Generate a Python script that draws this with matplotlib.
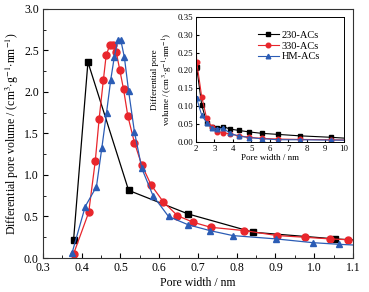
import matplotlib

matplotlib.use("Agg")
import matplotlib.pyplot as plt
from matplotlib.ticker import MultipleLocator

plt.rcParams["font.family"] = ["Liberation Serif", "DejaVu Serif"]
plt.rcParams["mathtext.fontset"] = "stix"

# main panel: micropore region
x_230 = [0.379, 0.416, 0.521, 0.675, 0.843, 1.054, 1.13]
y_230 = [0.22, 2.36, 0.815, 0.53, 0.31, 0.23, 0.21]

x_330 = [0.379, 0.418, 0.435, 0.445, 0.456, 0.463, 0.472, 0.481, 0.489, 0.498,
         0.508, 0.519, 0.536, 0.555, 0.579, 0.610, 0.647, 0.688, 0.733, 0.820,
         0.905, 0.976, 1.041, 1.088]
y_330 = [0.05, 0.55, 1.17, 1.68, 2.15, 2.44, 2.56, 2.57, 2.48, 2.27,
         2.03, 1.71, 1.39, 1.12, 0.88, 0.68, 0.51, 0.43, 0.37, 0.33,
         0.27, 0.25, 0.23, 0.22]

x_hm = [0.375, 0.409, 0.438, 0.452, 0.464, 0.475, 0.484, 0.493, 0.501, 0.510,
        0.521, 0.536, 0.555, 0.584, 0.624, 0.675, 0.731, 0.790, 0.902, 0.996,
        1.064, 1.13]
y_hm = [0.06, 0.62, 0.86, 1.33, 1.75, 2.15, 2.42, 2.62, 2.62, 2.42,
        2.01, 1.52, 1.08, 0.75, 0.50, 0.40, 0.33, 0.27, 0.23, 0.185,
        0.165, 0.15]

# inset: mesopore region
xi = [2.04, 2.31, 2.58, 2.85, 3.15, 3.48, 3.84, 4.34, 4.88, 5.55, 6.45, 7.62, 9.28, 10.2]
yi_230 = [0.209, 0.104, 0.054, 0.041, 0.038, 0.043, 0.036, 0.032, 0.028, 0.024,
          0.021, 0.017, 0.013, 0.010]
xi_330 = [1.98] + xi
yi_330 = [0.345, 0.225, 0.127, 0.066, 0.042, 0.029, 0.026, 0.022, 0.017, 0.013,
          0.010, 0.008, 0.007, 0.006, 0.005]
yi_hm = [0.122, 0.075, 0.054, 0.040, 0.036, 0.038, 0.024, 0.016, 0.012, 0.009,
         0.006, 0.006, 0.005, 0.005]

labels = ["230-ACs", "330-ACs", "HM-ACs"]
RED = "#e8262c"
BLUE = "#2b5cb5"

fig = plt.figure(figsize=(3.69, 2.92), dpi=100)
ax = fig.add_axes([0.1165, 0.1164, 0.840, 0.853])

ax.plot(x_230, y_230, color="black", lw=0.9, marker="s", ms=4, markevery=slice(0, -1))
ax.plot(x_330, y_330, color=RED, lw=0.9, marker="o", ms=5)
ax.plot(x_hm, y_hm, color=BLUE, lw=0.9, marker="^", ms=5, markevery=slice(0, -1))

ax.set_xlim(0.3, 1.1)
ax.set_ylim(0, 3.0)
ax.xaxis.set_major_locator(MultipleLocator(0.1))
ax.xaxis.set_minor_locator(MultipleLocator(0.05))
ax.yaxis.set_major_locator(MultipleLocator(0.5))
ax.yaxis.set_minor_locator(MultipleLocator(0.25))
ax.tick_params(which="both", direction="in", labelsize=8.5, pad=3)
ax.tick_params(which="major", length=3.5)
ax.tick_params(which="minor", length=2)
ax.set_xlabel("Pore width / nm", fontsize=8.5, labelpad=2)
ax.set_ylabel(r"Differential pore volume / (cm$^3$$\cdot$g$^{-1}$$\cdot$nm$^{-1}$)",
              fontsize=8.5, labelpad=2)
for s in ax.spines.values():
    s.set_linewidth(0.8)
    s.set_color("#333333")

ins = fig.add_axes([0.531, 0.514, 0.401, 0.428])
ins.plot(xi, yi_230, color="black", lw=0.8, marker="s", ms=3, markevery=slice(0, -1),
         label=labels[0])
ins.plot(xi_330, yi_330, color=RED, lw=0.8, marker="o", ms=3.3, markevery=slice(1, -1),
         label=labels[1])
ins.plot(xi, yi_hm, color=BLUE, lw=0.8, marker="^", ms=3.3, markevery=slice(0, -1),
         label=labels[2])
ins.set_xlim(2, 10)
ins.set_ylim(0, 0.35)
ins.xaxis.set_major_locator(MultipleLocator(1))
ins.yaxis.set_major_locator(MultipleLocator(0.05))
ins.yaxis.set_major_formatter(plt.FormatStrFormatter("%.2f"))
ins.tick_params(direction="in", labelsize=6.3, length=2.5, pad=2)
ins.set_xlabel("Pore width / nm", fontsize=6.5, labelpad=1)
ins.set_ylabel("Differential pore\n" + r"volume / (cm$^3$$\cdot$g$^{-1}$$\cdot$nm$^{-1}$)",
               fontsize=6.5, labelpad=2)
for s in ins.spines.values():
    s.set_linewidth(0.7)
ins.legend(loc="upper left", bbox_to_anchor=(0.37, 0.95), frameon=False, fontsize=7.5,
           handlelength=2.0, handletextpad=0.3, labelspacing=0.15, borderpad=0.2)

fig.savefig("out.png", dpi=100)
